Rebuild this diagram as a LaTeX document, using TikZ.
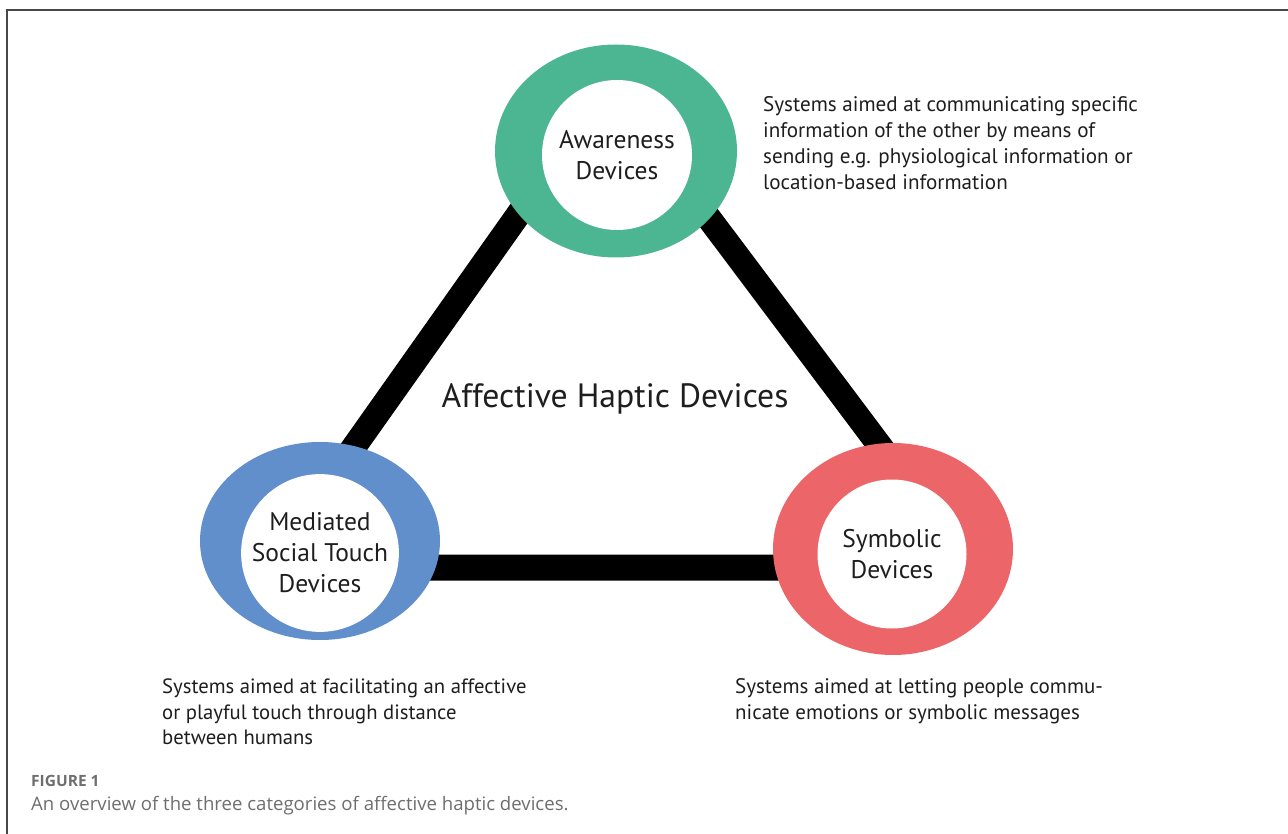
\documentclass[tikz,border=0pt]{standalone}
\usepackage{fontspec}
\setmainfont{PT Sans}
\newfontfamily\capfont{Open Sans}
\usetikzlibrary{shapes.geometric}
\pgfdeclarelayer{bg}
\pgfsetlayers{bg,main}
\definecolor{ringgreen}{RGB}{76,181,146}
\definecolor{ringblue}{RGB}{96,143,204}
\definecolor{ringred}{RGB}{236,101,104}
\definecolor{capgray}{RGB}{110,110,110}
\definecolor{txt}{RGB}{30,30,30}
\begin{document}
\begin{tikzpicture}[x=1pt,y=-1pt,
  ring/.style={ellipse, inner sep=0pt, draw=none},
  hole/.style={circle, fill=white, inner sep=0pt, align=center, text=txt,
    font=\fontsize{25.5}{31}\selectfont},
  bar/.style={black, line cap=butt, shorten <=-18pt, shorten >=-18pt},
  desc/.style={inner sep=0pt, align=left, anchor=west, text=txt,
    font=\fontsize{21.1}{26}\selectfont},
  captext/.style={inner sep=0pt, anchor=west, text=capgray}]
\useasboundingbox (0,0) rectangle (1288,834);
\draw[black!72, line width=1.2pt] (7,834) -- (7,10) -- (1288,10);

% rings
\node[ring, fill=ringgreen, minimum width=242pt, minimum height=213pt] (awr) at (616,151) {};
\node[hole, minimum size=150pt] (aw) at (617,155) {Awareness\\Devices};
\node[ring, fill=ringblue, minimum width=240pt, minimum height=198pt] (msr) at (320,541) {};
\node[hole, minimum size=147pt] (ms) at (320,553) {Mediated\\Social Touch\\Devices};
\node[ring, fill=ringred, minimum width=240pt, minimum height=212pt] (syr) at (893,549) {};
\node[hole, minimum size=149pt] (sy) at (892,554) {Symbolic\\Devices};

% connectors
\begin{pgfonlayer}{bg}
\draw[bar, line width=25pt] (awr.213) -- (msr.70.4);
\draw[bar, line width=25pt] (awr.324.7) -- (syr.98.2);
\draw[bar, line width=26pt] (msr.-13.2) -- (syr.189.1);
\end{pgfonlayer}

% texts
\node[inner sep=0pt, text=txt, font=\fontsize{33.7}{40}\selectfont] (title) at (615,399) {Affective Haptic Devices};
\node[desc] (daw) at (763,143) {Systems aimed at communicating specific\\information of the other by means of\\sending e.g. physiological information or\\location-based information};
\node[desc, font=\fontsize{20.7}{25.5}\selectfont] (dms) at (162,712) {Systems aimed at facilitating an affective\\or playful touch through distance\\between humans};
\node[desc, font=\fontsize{21}{26}\selectfont] (dsy) at (735,701) {Systems aimed at letting people commu-\\nicate emotions or symbolic messages};
\node[captext, font=\capfont\bfseries\fontsize{15.5}{18}\selectfont] (fig) at (31,781) {FIGURE 1};
\node[captext, font=\capfont\fontsize{18.6}{22}\selectfont] (capt) at (31,806) {An overview of the three categories of affective haptic devices.};
\end{tikzpicture}
\end{document}
